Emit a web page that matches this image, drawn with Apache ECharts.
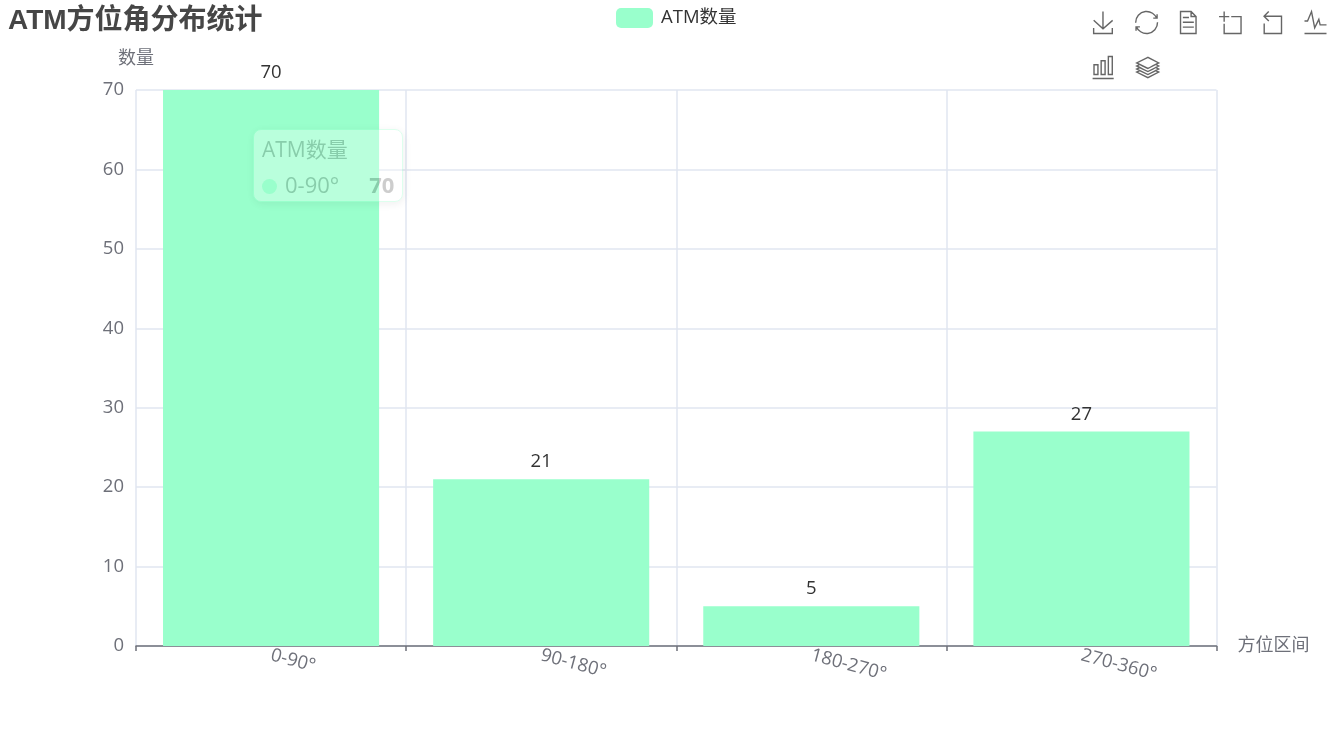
<!DOCTYPE html>
<html>
<head>
<meta charset="utf-8">
<style>html,body{margin:0;padding:0;background:#fff}#c{width:1338px;height:732px}</style>
<script src="https://cdn.jsdelivr.net/npm/echarts@6/dist/echarts.min.js"></script>
</head>
<body>
<div id="c"></div>
<script>
const categories = ['0-90°', '90-180°', '180-270°', '270-360°'];
const values = [70, 21, 5, 27];
const seriesName = 'ATM数量';
const titleText = 'ATM方位角分布统计';
const yName = '数量';
const xName = '方位区间';
const font = '"Open Sans","Noto Sans CJK SC",sans-serif';
const titleFont = '"Liberation Sans","Noto Sans CJK SC",sans-serif';
const chart = echarts.init(document.getElementById('c'));
chart.setOption({
  animation: false,
  textStyle: {fontFamily: font},
  title: {text: titleText, left: 3, top: 2, textStyle: {fontSize: 28, fontWeight: 'bold', color: '#464646', fontFamily: titleFont}},
  legend: {top: 3, left: 611, itemWidth: 37, itemHeight: 20, itemGap: 10,
    textStyle: {fontSize: 18.5, color: '#333', fontFamily: font, padding: [1, 0, 0, 3]}, data: [seriesName]},
  toolbox: {show: true, right: -6, top: -6, width: 270, itemSize: 22, itemGap: 18,
    iconStyle: {borderColor: '#666', borderWidth: 1.4},
    feature: {
      saveAsImage: {}, restore: {}, dataView: {}, dataZoom: {},
      magicType: {type: ['line', 'bar', 'stack']}
    }},
  tooltip: {trigger: 'item', alwaysShowContent: true, transitionDuration: 0,
    position: [253, 129], padding: [5, 8, 2, 8], borderRadius: 8,
    textStyle: {fontSize: 21, fontFamily: font},
    formatter: function (p) {
      return '<div style="line-height:28px;color:#666">' + p.seriesName + '</div>' +
        '<div style="line-height:30px;margin-top:6px;color:#666;white-space:nowrap;font-size:22px">' +
        '<span style="display:inline-block;width:15px;height:15px;border-radius:50%;background:' + p.color + ';margin-right:8px;vertical-align:-1px"></span>' +
        p.name + '<b style="margin-left:30px">' + p.value + '</b></div>';
    },
    extraCssText: 'opacity:0.32;'},
  grid: {left: 136, right: 121.5, top: 90, bottom: 86},
  xAxis: {type: 'category', data: categories, name: xName, nameGap: 21,
    nameTextStyle: {fontSize: 18, color: '#6E7079'},
    axisLine: {lineStyle: {color: '#6E7079', width: 1.5}},
    axisTick: {show: true, alignWithLabel: false, lineStyle: {width: 1.5}},
    axisLabel: {rotate: -15, fontSize: 18.5, color: '#6E7079', margin: 9},
    splitLine: {show: true, lineStyle: {color: '#E0E6F1', width: 1.5}}},
  yAxis: {type: 'value', min: 0, max: 70, interval: 10, name: yName, nameGap: 22,
    nameTextStyle: {fontSize: 18, color: '#6E7079'},
    axisLabel: {fontSize: 18.5, color: '#6E7079', margin: 12, padding: [0, 0, 4, 0]},
    axisLine: {show: false},
    splitLine: {show: true, lineStyle: {color: '#E0E6F1', width: 1.5}}},
  series: [{name: seriesName, type: 'bar', data: values, barCategoryGap: '20%',
    itemStyle: {color: '#99FFCC'},
    label: {show: true, position: 'top', distance: 8, fontSize: 18.5, color: '#333', fontFamily: font}}]
});
chart.dispatchAction({type: 'showTip', seriesIndex: 0, dataIndex: 0});
</script>
</body>
</html>
